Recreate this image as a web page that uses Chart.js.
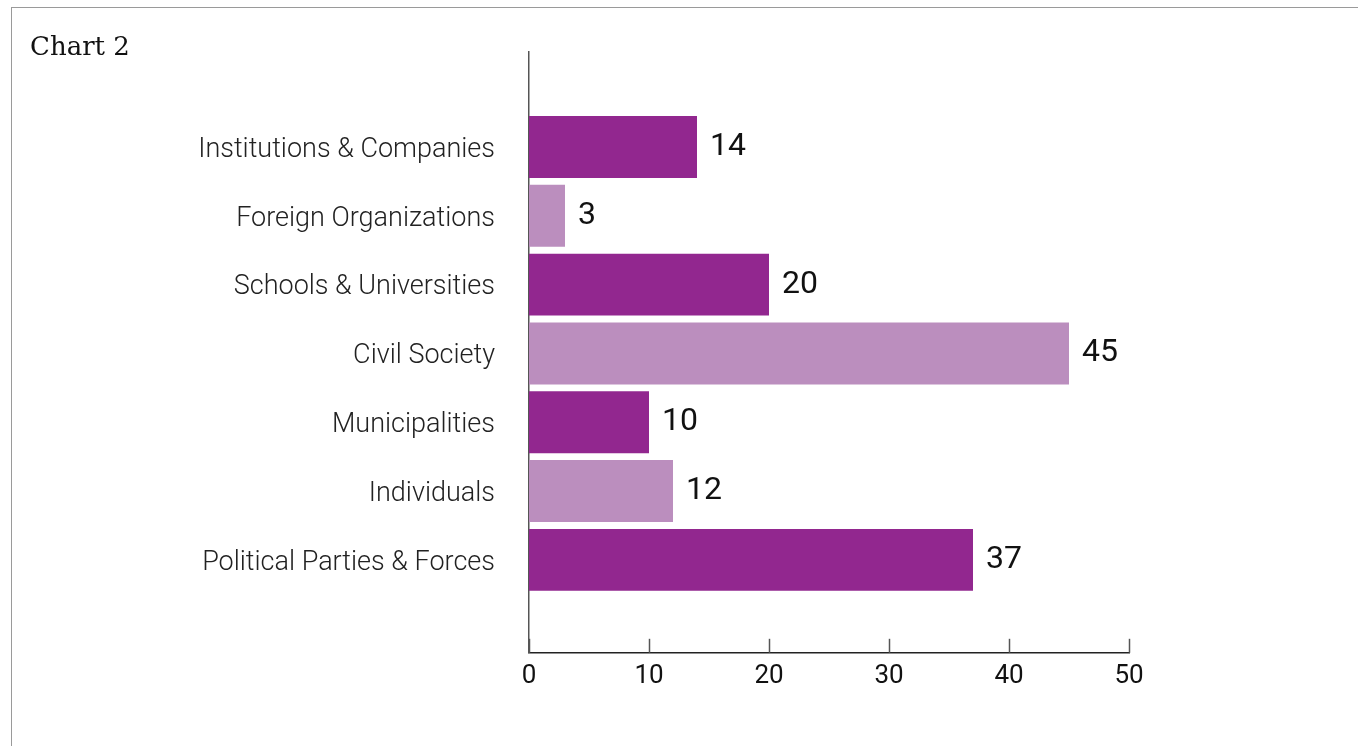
<!DOCTYPE html>
<html>
<head>
<meta charset="utf-8">
<script src="https://cdn.jsdelivr.net/npm/chart.js@4/dist/chart.umd.min.js"></script>
<style>
  html, body { margin: 0; padding: 0; background: #fff; }
  #frame {
    position: absolute; left: 11px; top: 7px; width: 1347px; height: 739px;
    border-top: 1.5px solid #9a9a9a; border-left: 1.5px solid #9a9a9a;
  }
  #title {
    position: absolute; left: 30px; top: 31px; margin: 0;
    font: 26px "DejaVu Serif", serif; color: #111;
  }
  #wrap { position: absolute; left: 0; top: 0; width: 1358px; height: 746px; }
</style>
</head>
<body>
<div id="frame"></div>
<div id="wrap"><canvas id="chart2"></canvas></div>
<p id="title">Chart 2</p>
<script>
// categories, top to bottom
var groups = [
    'Institutions & Companies',
    'Foreign Organizations',
    'Schools & Universities',
    'Civil Society',
    'Municipalities',
    'Individuals',
    'Political Parties & Forces'
];
var counts = [14, 3, 20, 45, 10, 12, 37];
var xTicks = [0, 10, 20, 30, 40, 50];

var dark = '#92278f';
var light = '#bb8ebe';

var points = [];
var colours = [];
for (var i in groups) {
    points.push({ x: counts[i], y: Number(i) });
    colours.push(i % 2 === 0 ? dark : light);
}

// count printed just past the end of each bar
var valueLabels = {
    id: 'valueLabels',
    afterDatasetsDraw: function (chart) {
        var ctx = chart.ctx;
        var meta = chart.getDatasetMeta(0);
        ctx.save();
        ctx.font = '32px Roboto';
        ctx.fillStyle = '#111';
        ctx.textAlign = 'left';
        ctx.textBaseline = 'middle';
        meta.data.forEach(function (bar, j) {
            ctx.fillText(String(counts[j]), bar.x + 13, bar.y);
        });
        ctx.restore();
    }
};

// x axis ticks point up into the plot
var innerTicks = {
    id: 'innerTicks',
    afterDraw: function (chart) {
        var ctx = chart.ctx;
        var xs = chart.scales.x;
        var base = chart.chartArea.bottom;
        ctx.save();
        ctx.strokeStyle = '#555';
        ctx.lineWidth = 1.5;
        xTicks.forEach(function (v) {
            var px = Math.round(xs.getPixelForValue(v)) + 0.5;
            ctx.beginPath();
            ctx.moveTo(px, base);
            ctx.lineTo(px, base - 14);
            ctx.stroke();
        });
        ctx.restore();
    }
};

var graphTarget = document.getElementById('chart2');
var barGraph = new Chart(graphTarget, {
    type: 'bar',
    data: {
        datasets: [{
            data: points,
            backgroundColor: colours,
            borderWidth: 0,
            barPercentage: 0.9,
            categoryPercentage: 1
        }]
    },
    options: {
        indexAxis: 'y',
        responsive: true,
        maintainAspectRatio: false,
        animation: false,
        layout: { padding: { top: 52, right: 229, bottom: 46, left: 0 } },
        plugins: {
            legend: { display: false },
            tooltip: { enabled: false }
        },
        scales: {
            x: {
                type: 'linear',
                min: 0,
                max: 50,
                afterBuildTicks: function (scale) {
                    scale.ticks = xTicks.map(function (v) { return { value: v }; });
                },
                grid: { display: false, drawTicks: false },
                border: { display: true, color: '#222', width: 1.5 },
                ticks: {
                    padding: 8,
                    color: '#111',
                    font: { family: 'Roboto', size: 26 }
                }
            },
            y: {
                type: 'linear',
                bounds: 'data',
                offset: false,
                reverse: true,
                min: -1.38,
                max: 7.35,
                afterBuildTicks: function (scale) {
                    scale.ticks = groups.map(function (g, k) { return { value: k }; });
                },
                afterFit: function (scale) { scale.width = 529; },
                grid: { display: false, drawTicks: false },
                border: { display: true, color: '#555', width: 1.5 },
                ticks: {
                    padding: 34,
                    labelOffset: 3,
                    color: '#222',
                    font: { family: 'Roboto', size: 27, weight: '300' },
                    callback: function (v) { return groups[v]; }
                }
            }
        }
    },
    plugins: [valueLabels, innerTicks]
});
</script>
</body>
</html>
